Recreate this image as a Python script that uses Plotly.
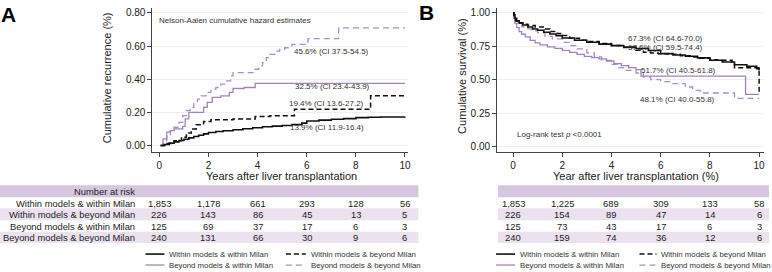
import plotly.graph_objects as go

W, H = 772, 272
FONT = "Liberation Sans, Arial, sans-serif"

# ---------------- Panel A: Nelson-Aalen cumulative hazard (recurrence) ----------------
a_ww_t = [0.05, 0.2, 0.4, 0.6, 0.8, 1.0, 1.2, 1.4, 1.6, 1.8, 2.0, 2.3, 2.6, 3.0, 3.4, 3.8, 4.2, 4.6, 5.0, 5.4, 5.8, 6.0, 6.5, 7.0, 7.5, 8.0, 8.5, 9.0, 10.0]
a_ww_v = [0.0, 0.006, 0.014, 0.022, 0.030, 0.038, 0.046, 0.054, 0.062, 0.070, 0.078, 0.084, 0.089, 0.095, 0.101, 0.107, 0.113, 0.117, 0.121, 0.126, 0.135, 0.148, 0.153, 0.158, 0.162, 0.168, 0.170, 0.172, 0.174]

a_wb_t = [0.05, 0.3, 0.6, 0.9, 1.1, 1.3, 1.5, 1.8, 2.1, 3.0, 3.9, 4.5, 5.5, 8.6, 10.0]
a_wb_v = [0.0, 0.012, 0.028, 0.05, 0.075, 0.10, 0.125, 0.145, 0.155, 0.16, 0.175, 0.18, 0.218, 0.30, 0.30]

a_bw_t = [0.05, 0.15, 0.3, 0.45, 0.6, 0.95, 1.05, 1.2, 1.8, 1.95, 2.15, 2.5, 2.85, 3.0, 3.45, 3.9, 10.0]
a_bw_v = [0.0, 0.04, 0.08, 0.09, 0.10, 0.115, 0.16, 0.20, 0.23, 0.26, 0.29, 0.30, 0.32, 0.344, 0.35, 0.375, 0.375]

a_bb_t = [0.05, 0.15, 0.3, 0.45, 0.6, 0.8, 0.95, 1.1, 1.25, 1.4, 1.55, 1.7, 1.9, 2.1, 2.3, 2.5, 2.7, 2.9, 3.0, 3.9, 4.05, 4.2, 4.35, 4.5, 4.7, 4.9, 5.1, 5.4, 6.05, 7.3, 10.0]
a_bb_v = [0.0, 0.03, 0.06, 0.09, 0.11, 0.14, 0.18, 0.21, 0.23, 0.26, 0.28, 0.30, 0.32, 0.34, 0.35, 0.37, 0.39, 0.42, 0.44, 0.46, 0.48, 0.50, 0.53, 0.55, 0.57, 0.58, 0.59, 0.61, 0.645, 0.71, 0.71]

# ---------------- Panel B: Kaplan-Meier survival ----------------
b_ww_t = [0, 0.03, 0.08, 0.15, 0.25, 0.4, 0.6, 0.8, 1.0, 1.25, 1.5, 1.75, 2.0, 2.5, 3.0, 3.5, 4.0, 4.5, 5.0, 5.5, 6.0, 6.5, 7.0, 7.5, 8.0, 8.5, 9.0, 9.5, 9.9, 10.0]
b_ww_s = [1.0, 0.985, 0.96, 0.94, 0.925, 0.91, 0.895, 0.88, 0.87, 0.855, 0.842, 0.83, 0.812, 0.795, 0.78, 0.766, 0.755, 0.744, 0.733, 0.718, 0.695, 0.685, 0.675, 0.663, 0.645, 0.632, 0.612, 0.60, 0.583, 0.57]

b_wb_t = [0, 0.05, 0.1, 0.2, 0.4, 0.6, 0.9, 1.3, 1.5, 1.8, 2.0, 2.3, 2.7, 3.0, 3.5, 4.0, 4.5, 5.0, 5.3, 5.6, 5.9, 6.3, 6.8, 7.2, 7.6, 8.0, 8.3, 8.9, 9.0, 10.0]
b_wb_s = [1.0, 0.97, 0.94, 0.925, 0.915, 0.905, 0.895, 0.88, 0.86, 0.845, 0.83, 0.81, 0.795, 0.785, 0.77, 0.755, 0.74, 0.72, 0.705, 0.70, 0.695, 0.69, 0.68, 0.67, 0.66, 0.65, 0.645, 0.63, 0.59, 0.39]

b_bw_t = [0, 0.03, 0.08, 0.15, 0.25, 0.35, 0.5, 0.7, 0.9, 1.1, 1.4, 1.7, 2.0, 2.3, 2.6, 2.9, 3.2, 3.5, 3.8, 4.1, 4.4, 4.7, 5.0, 5.2, 9.45, 10.0]
b_bw_s = [1.0, 0.96, 0.92, 0.89, 0.86, 0.84, 0.82, 0.795, 0.775, 0.76, 0.745, 0.735, 0.72, 0.705, 0.69, 0.675, 0.665, 0.655, 0.64, 0.62, 0.605, 0.59, 0.575, 0.527, 0.39, 0.39]

b_bb_t = [0, 0.05, 0.1, 0.2, 0.35, 0.5, 0.75, 1.0, 1.3, 1.6, 2.0, 2.3, 2.6, 3.0, 3.3, 3.6, 4.0, 4.3, 4.6, 5.0, 5.3, 5.6, 6.0, 6.5, 7.0, 7.3, 7.6, 9.0, 10.0]
b_bb_s = [1.0, 0.97, 0.94, 0.915, 0.895, 0.88, 0.865, 0.85, 0.825, 0.805, 0.78, 0.755, 0.73, 0.70, 0.67, 0.645, 0.615, 0.59, 0.57, 0.55, 0.52, 0.50, 0.485, 0.47, 0.445, 0.42, 0.40, 0.36, 0.36]

# ---------------- Number at risk ----------------
groups = ["Within models & within Milan", "Within models & beyond Milan",
          "Beyond models & within Milan", "Beyond models & beyond Milan"]
risk_times = [0, 2, 4, 6, 8, 10]
risk_a = [[1853, 1178, 661, 293, 128, 56],
          [226, 143, 86, 45, 13, 5],
          [125, 69, 37, 17, 6, 3],
          [240, 131, 66, 30, 9, 6]]
risk_b = [[1853, 1225, 689, 309, 133, 58],
          [226, 154, 89, 47, 14, 6],
          [125, 73, 43, 17, 6, 3],
          [240, 159, 74, 36, 12, 6]]

# ---------------- Annotation texts ----------------
a_labels = [("45.6% (CI 37.5-54.5)", 7.0, 0.565), ("32.5% (CI 23.4-43.9)", 7.06, 0.355),
            ("19.4% (CI 13.6-27.2)", 6.82, 0.253), ("13.9% (CI 11.9-16.4)", 6.82, 0.108)]
b_labels = [("67.3% (CI 64.6-70.0)", 6.21, 0.806), ("67.6% (CI 59.5-74.4)", 6.21, 0.739),
            ("51.7% (CI 40.5-61.8)", 6.72, 0.567), ("48.1% (CI 40.0-55.8)", 6.68, 0.351)]

BLACK = "#111111"
PURPLE = "#a084b9"
PURPLE2 = "#a990c2"
styles = [dict(color=BLACK, width=1.6, dash="solid"),
          dict(color=BLACK, width=1.5, dash="5px,3px"),
          dict(color=PURPLE, width=1.3, dash="solid"),
          dict(color=PURPLE2, width=1.3, dash="6px,4px")]


def px(x):
    return x / W


def py(y):
    return 1 - y / H


fig = go.Figure()
a_series = [(a_ww_t, a_ww_v), (a_wb_t, a_wb_v), (a_bw_t, a_bw_v), (a_bb_t, a_bb_v)]
b_series = [(b_ww_t, b_ww_s), (b_wb_t, b_wb_s), (b_bw_t, b_bw_s), (b_bb_t, b_bb_s)]
order = [3, 2, 1, 0]
for i in order:
    t, v = a_series[i]
    fig.add_trace(go.Scatter(x=t, y=v, mode="lines", line=dict(shape="hv", **styles[i]),
                             xaxis="x", yaxis="y", showlegend=False, name=groups[i]))
for i in order:
    t, v = b_series[i]
    fig.add_trace(go.Scatter(x=t, y=v, mode="lines", line=dict(shape="hv", **styles[i]),
                             xaxis="x2", yaxis="y2", showlegend=False, name=groups[i]))

ydom = [py(152), py(7)]
axis_common = dict(ticks="outside", ticklen=4, tickcolor="#444", showline=True,
                   linecolor="#444", linewidth=1, zeroline=False,
                   tickfont=dict(family=FONT, size=10, color="#222"))
fig.update_layout(
    width=W, height=H, margin=dict(l=0, r=0, t=0, b=0),
    paper_bgcolor="white", plot_bgcolor="white",
    xaxis=dict(domain=[px(153), px(410)], range=[-0.284, 10.14], tickvals=[0, 2, 4, 6, 8, 10],
               showgrid=False, anchor="y", **axis_common),
    yaxis=dict(domain=ydom, range=[-0.042, 0.83], tickvals=[0, 0.2, 0.4, 0.6, 0.8],
               tickformat=".2f", showgrid=True, gridcolor="#efefef", anchor="x", **axis_common),
    xaxis2=dict(domain=[px(499), px(767)], range=[-0.648, 10.2], tickvals=[0, 2, 4, 6, 8, 10],
                showgrid=False, anchor="y2", **axis_common),
    yaxis2=dict(domain=ydom, range=[-0.045, 1.037], tickvals=[0, 0.25, 0.5, 0.75, 1.0],
                tickformat=".2f", showgrid=True, gridcolor="#efefef", anchor="x2", **axis_common),
)

ann = []
shapes = []
small = dict(family=FONT, size=8, color="#333")


def note(text, x, y, xref="paper", yref="paper", xanchor="center", font=small, **kw):
    d = dict(text=text, x=x, y=y, xref=xref, yref=yref, xanchor=xanchor, yanchor="middle",
             showarrow=False, font=font)
    d.update(kw)
    ann.append(d)


# panel letters
big = dict(family=FONT, size=21, color="#000")
note("<b>A</b>", px(9), py(14), font=big)
note("<b>B</b>", px(428), py(12), font=big)

# axis titles
tfont = dict(family=FONT, size=11, color="#222")
note("Cumulative recurrence (%)", px(107), py(77), textangle=-90, font=tfont)
note("Years after liver transplantation", px(283), py(175.5), font=tfont)
note("Cumulative survival (%)", px(464), py(75), textangle=-90, font=tfont)
note("Year after liver transplantation (%)", px(638), py(175.5), font=tfont)

# in-plot texts
note("Nelson-Aalen cumulative hazard estimates", -0.08, 0.752, "x", "y", xanchor="left")
for txt, xx, yy in a_labels:
    note(txt, xx, yy, "x", "y")
for txt, xx, yy in b_labels:
    note(txt, xx, yy, "x2", "y2")
note("Log-rank test <i>p</i> &lt;0.0001", 0.08, 0.09, "x2", "y2", xanchor="left")

# risk table
HEAD = "#d7c6df"
LIGHT = "#ebe1ef"
band_rows = [(185, 197, HEAD), (208, 220, LIGHT), (231.5, 243, LIGHT)]
for (x0, x1) in [(0, 420), (500, 772)]:
    for (y0, y1, c) in band_rows:
        shapes.append(dict(type="rect", xref="paper", yref="paper", x0=px(x0), x1=px(x1),
                           y0=py(y1), y1=py(y0), fillcolor=c, line=dict(width=0), layer="below"))

tabfont = dict(family=FONT, size=9.4, color="#222")
note("Number at risk", px(138), py(191), xanchor="right", font=tabfont)
row_y = [203, 214, 226, 237]
for r, g in enumerate(groups):
    note(g, px(138), py(row_y[r]), xanchor="right", font=tabfont)
    for k, tt in enumerate(risk_times):
        note(f"{risk_a[r][k]:,}", tt, py(row_y[r]), "x", "paper", font=tabfont)
        note(f"{risk_b[r][k]:,}", tt, py(row_y[r]), "x2", "paper", font=tabfont)

# legends (one under each panel)
leg_rows = [254, 265]
leg_items = [(0, 0, 0), (1, 0, 1), (2, 1, 0), (3, 1, 1)]  # (group, row, col)
legfont = dict(family=FONT, size=7.8, color="#333")
for cols in [[(146, 165, 168), (287, 307, 310)], [(498, 517, 520), (642, 659, 662)]]:
    for g, rr, cc in leg_items:
        lx0, lx1, tx = cols[cc]
        st = styles[g]
        shapes.append(dict(type="line", xref="paper", yref="paper", x0=px(lx0), x1=px(lx1),
                           y0=py(leg_rows[rr]), y1=py(leg_rows[rr]),
                           line=dict(color=st["color"], width=st["width"], dash=st["dash"])))
        note(groups[g], px(tx), py(leg_rows[rr]), xanchor="left", font=legfont)

fig.update_layout(annotations=ann, shapes=shapes)
fig.write_html("out.html", config={"displayModeBar": False},
               post_script="document.body.style.margin='0';document.body.style.overflow='hidden';")
